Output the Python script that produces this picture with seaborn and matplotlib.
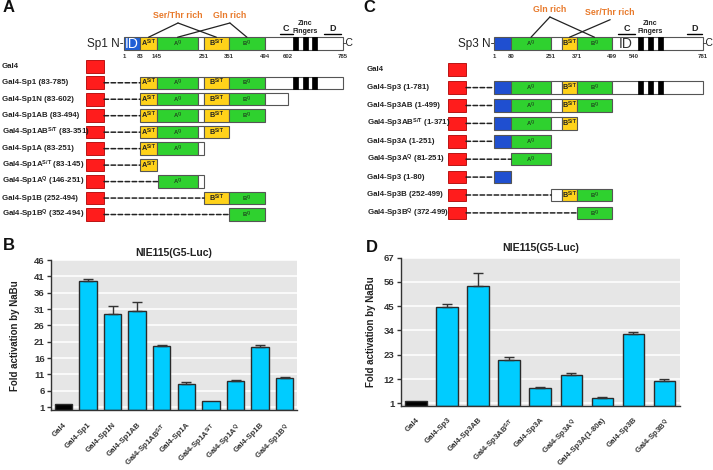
import numpy as np
import pandas as pd
import matplotlib.pyplot as plt
import matplotlib.transforms as mtransforms
import seaborn as sns
from matplotlib.patches import Rectangle

# ---------------- data ----------------
# Sp1 domain map (residue ranges)
sp1_domains = [(1, 83, 'id'), (83, 145, 'ast'), (145, 235, 'aq'), (235, 251, 'blank'),
               (251, 351, 'bst'), (351, 494, 'bq'), (494, 785, 'blank')]
sp1_zinc = [(619, 635), (652, 669), (682, 699)]
sp1_ticks = [1, 83, 145, 251, 351, 494, 602, 785]
sp1_regions = [('C', 564, 619), ('D', 722, 778)]
sp1_rows = ['Gal4', 'Gal4-Sp1 (83-785)', 'Gal4-Sp1N (83-602)', 'Gal4-Sp1AB (83-494)',
            r'Gal4-Sp1AB$^{\mathbf{S/T}}$ (83-351)', 'Gal4-Sp1A (83-251)',
            r'Gal4-Sp1A$^{\mathbf{S/T}}$ (83-145)', r'Gal4-Sp1A$^{\mathbf{Q}}$ (146-251)',
            'Gal4-Sp1B (252-494)', r'Gal4-Sp1B$^{\mathbf{Q}}$ (352-494)']
sp1_ranges = [None, (83, 785), (83, 602), (83, 494), (83, 351), (83, 251),
              (83, 145), (146, 251), (252, 494), (352, 494)]

# Sp3 domain map
sp3_domains = [(1, 80, 'nt'), (80, 251, 'aq'), (251, 330, 'blank'), (330, 371, 'bst'),
               (371, 499, 'bq'), (499, 781, 'blank')]
sp3_zinc = [(554, 571), (589, 606), (624, 641)]
sp3_ticks = [1, 80, 251, 371, 499, 540, 781]
sp3_regions = [('C', 510, 543), ('D', 725, 777)]
sp3_rows = ['Gal4', 'Gal4-Sp3 (1-781)', 'Gal4-Sp3AB (1-499)',
            r'Gal4-Sp3AB$^{\mathbf{S/T}}$ (1-371)', 'Gal4-Sp3A (1-251)',
            r'Gal4-Sp3A$^{\mathbf{Q}}$ (81-251)', 'Gal4-Sp3 (1-80)',
            'Gal4-Sp3B (252-499)', r'Gal4-Sp3B$^{\mathbf{Q}}$ (372-499)']
sp3_ranges = [None, (1, 781), (1, 499), (1, 371), (1, 251), (81, 251), (1, 80),
              (252, 499), (372, 499)]

# bar charts
b_labels = ['Gal4', 'Gal4-Sp1', 'Gal4-Sp1N', 'Gal4-Sp1AB', r'Gal4-Sp1AB$^{\mathbf{S/T}}$',
            'Gal4-Sp1A', r'Gal4-Sp1A$^{\mathbf{S/T}}$', r'Gal4-Sp1A$^{\mathbf{Q}}$',
            'Gal4-Sp1B', r'Gal4-Sp1B$^{\mathbf{Q}}$']
b_fold = [1.8, 39.6, 29.6, 30.4, 19.8, 8.1, 2.8, 9.0, 19.4, 9.9]
b_err = [0, 0.7, 2.4, 2.6, 0.2, 0.5, 0, 0.2, 0.6, 0.3]
b_yticks = [1, 6, 11, 16, 21, 26, 31, 36, 41, 46]

d_labels = ['Gal4', 'Gal4-Sp3', 'Gal4-Sp3AB', r'Gal4-Sp3AB$^{\mathbf{S/T}}$', 'Gal4-Sp3A',
            r'Gal4-Sp3A$^{\mathbf{Q}}$', 'Gal4-Sp3A(1-80a)', 'Gal4-Sp3B',
            r'Gal4-Sp3B$^{\mathbf{Q}}$']
d_fold = [2.0, 44.7, 54.0, 20.6, 7.8, 13.9, 3.4, 32.5, 11.3]
d_err = [0, 1.2, 6.0, 1.5, 0.4, 0.9, 0.4, 1.0, 0.7]
d_yticks = [1, 12, 23, 34, 45, 56, 67]

# schematics are not drawn to scale: residue -> fraction of drawn length
sp1_draw_res = [1, 83, 145, 235, 251, 351, 494, 602, 785]
sp1_draw_pos = [0, .073, .151, .338, .365, .479, .644, .749, 1]
sp3_draw_res = [1, 80, 251, 330, 371, 499, 540, 781]
sp3_draw_pos = [0, .081, .273, .325, .397, .565, .670, 1]

# ---------------- style ----------------
sns.set_theme(style='darkgrid', rc={'axes.facecolor': '#e6e6e6', 'grid.color': 'white'})
plt.rcParams['font.family'] = ['Liberation Sans', 'DejaVu Sans']
plt.rcParams['mathtext.fontset'] = 'custom'
plt.rcParams['mathtext.rm'] = 'Liberation Sans'
plt.rcParams['mathtext.bf'] = 'Liberation Sans:bold'
plt.rcParams['mathtext.it'] = 'Liberation Sans:italic'

FILL = {'id': '#1f5fd6', 'nt': '#1f4fd0', 'ast': '#ffd21a', 'bst': '#ffd21a',
        'aq': '#2fd12f', 'bq': '#2fd12f', 'blank': 'white'}
TAG = {'ast': r'A$^{\mathbf{S/T}}$', 'bst': r'B$^{\mathbf{S/T}}$',
       'aq': r'A$^{\mathbf{Q}}$', 'bq': r'B$^{\mathbf{Q}}$'}
ORANGE = '#e8792a'

W, H = 713, 470
fig = plt.figure(figsize=(W / 100, H / 100), dpi=100)


def px_axes(x0, y0, x1, y1):
    return fig.add_axes([x0 / W, 1 - y1 / H, (x1 - x0) / W, (y1 - y0) / H])


def draw_protein(ax, domains, zinc, lo, hi, y, h, top=False, id_text=None):
    for s, e, kind in domains:
        a, b = max(s, lo), min(e, hi)
        if b <= a:
            continue
        ax.add_patch(Rectangle((a, y - h / 2), b - a, h, fc=FILL[kind], ec='#555555',
                               lw=0.8, clip_on=False, zorder=2))
        if kind in TAG:
            small = kind in ('aq', 'bq')
            ax.text((a + b) / 2, y, TAG[kind], ha='center', va='center',
                    fontsize=4.2 if small else 5.2, fontweight='bold',
                    color='#1f4a1f' if small else '#222222', zorder=3)
        if kind == 'id' and top:
            ax.text((a + b) / 2, y + 0.5, 'ID', ha='center', va='center', fontsize=10,
                    color='white', zorder=3)
    for s, e in zinc:
        if s >= lo and e <= hi:
            ax.add_patch(Rectangle((s, y - h / 2), e - s, h, fc='black', ec='black',
                                   lw=0.5, clip_on=False, zorder=3))
    if top and id_text is not None:
        ax.text(id_text, y + 0.5, 'ID', ha='center', va='center', fontsize=10,
                color='#333333', zorder=3)


def draw_schematic(ax, name, domains, zinc, ticks, regions, zinc_x, draw_res, draw_pos,
                   rows, ranges, row0, pitch, box_x, label_x, notes, id_text=None):
    res = np.asarray(draw_res, float)
    pos = np.asarray(draw_pos, float)
    ax.set_xscale('function', functions=(lambda r: np.interp(r, res, pos),
                                         lambda p: np.interp(p, pos, res)))
    ax.set_xlim(res[0], res[-1])
    ax.set_ylim(230, 0)
    ax.axis('off')

    # full-length protein
    ytop = 43.5
    draw_protein(ax, domains, zinc, res[0], res[-1], ytop, 12.5, top=True, id_text=id_text)
    ax.text(res[0], ytop, f'{name} N-', ha='right', va='center', fontsize=8.5, color='#222222')
    ax.text(res[-1], ytop, '-C', ha='left', va='center', fontsize=7.5, color='#222222')
    for t in ticks:
        ax.text(t, 56.5, str(t), ha='center', va='center', fontsize=4.3,
                fontweight='bold', color='#333333')
    for lab, s, e in regions:
        ax.plot([s, e], [33.8, 33.8], color='black', lw=1, clip_on=False)
        ax.text((s + e) / 2, 28.5, lab, ha='center', va='center', fontsize=6.5,
                fontweight='bold', color='#222222')
    ax.text(zinc_x, 27.5, 'Zinc\nFingers', ha='center', va='center', fontsize=5,
            fontweight='bold', color='#222222', linespacing=1.3)

    centres = {k: (s + e) / 2 for s, e, k in domains}
    for text, x, y, targets in notes:
        ax.text(x, y, text, ha='center', va='center', fontsize=6.3,
                fontweight='bold', color=ORANGE)
        for k in targets:
            ax.plot([x, centres[k]], [y + 7, ytop - 6.25], color='#222222', lw=0.9,
                    clip_on=False)

    # constructs
    tr = mtransforms.blended_transform_factory(fig.transFigure, ax.transData)
    for i, (lab, rng) in enumerate(zip(rows, ranges)):
        y = row0 + pitch * i
        ax.text(label_x / W, y, lab, transform=tr, ha='left', va='center',
                fontsize=5.7, fontweight='bold', color='#222222')
        ax.add_patch(Rectangle((box_x[0] / W, y - 6.3), (box_x[1] - box_x[0]) / W, 12.6,
                               transform=tr, fc='#ff1c1c', ec='#b00000', lw=0.6,
                               clip_on=False))
        if rng is None:
            continue
        ax.annotate('', xy=(rng[0], y), xycoords='data', xytext=(box_x[1] / W, y),
                    textcoords=tr,
                    arrowprops=dict(arrowstyle='-', linestyle=(0, (3, 1.6)), lw=1.1,
                                    color='#222222', shrinkA=0, shrinkB=0))
        draw_protein(ax, domains, zinc, rng[0], rng[1], y, 12.5)


def draw_bars(ax, labels, fold, err, yticks, ylabel_x, title_pad):
    df = pd.DataFrame({'construct': labels, 'fold': fold})
    colors = {lab: ('black' if i == 0 else '#00ccff') for i, lab in enumerate(labels)}
    sns.barplot(data=df, x='construct', y='fold', hue='construct', palette=colors,
                saturation=1, width=0.7, edgecolor='#2b2b2b', linewidth=1, legend=False,
                ax=ax, zorder=2)
    err = np.asarray(err, float)
    x = np.arange(len(labels))
    m = err > 0
    ax.errorbar(x[m], np.asarray(fold)[m], yerr=[np.zeros(m.sum()), err[m]], fmt='none',
                ecolor='#333333', elinewidth=1, capsize=3.5, capthick=1, zorder=3)
    ax.set_ylim(0, yticks[-1])
    ax.set_xlim(-0.5, len(labels) - 0.5)
    ax.set_yticks(yticks)
    ax.set_yticklabels([str(t) for t in yticks], fontsize=6.8, fontweight='bold',
                       color='#333333')
    ax.set_xticks(x)
    ax.set_xticklabels(labels, rotation=45, ha='right', rotation_mode='anchor',
                       fontsize=5.6, fontweight='bold', color='#333333')
    ax.tick_params(axis='y', left=True, length=3, width=1, color='#333333', pad=1.5)
    ax.tick_params(axis='x', bottom=False, pad=2)
    ax.xaxis.grid(False)
    ax.yaxis.grid(True, color='white', lw=1.1)
    for side in ('top', 'right'):
        ax.spines[side].set_visible(False)
    for side in ('left', 'bottom'):
        ax.spines[side].set_visible(True)
        ax.spines[side].set_color('#333333')
        ax.spines[side].set_linewidth(1)
    ax.set_xlabel('')
    ax.set_ylabel('Fold activation by NaBu', fontsize=7, fontweight='bold', color='#222222')
    ax.yaxis.set_label_coords(ylabel_x, 0.5)
    ax.set_title('NIE115(G5-Luc)', fontsize=7.6, fontweight='bold', color='#222222',
                 pad=title_pad)


# ---------------- panels ----------------
ax_a = px_axes(124, 0, 343, 230)
draw_schematic(ax_a, 'Sp1', sp1_domains, sp1_zinc, sp1_ticks, sp1_regions, 659,
               sp1_draw_res, sp1_draw_pos, sp1_rows, sp1_ranges, 66.3, 16.47,
               (86, 104), 2,
               [('Ser/Thr rich', 191, 16, ['ast', 'bst']), ('Gln rich', 355, 16, ['aq', 'bq'])])

ax_c = px_axes(494, 0, 703, 230)
draw_schematic(ax_c, 'Sp3', sp3_domains, sp3_zinc, sp3_ticks, sp3_regions, 596,
               sp3_draw_res, sp3_draw_pos, sp3_rows, sp3_ranges, 69.7, 17.9,
               (448, 466), 367,
               [('Gln rich', 246, 10, ['aq', 'bq']), ('Ser/Thr rich', 492, 12.7, ['bst'])],
               id_text=525)

ax_b = px_axes(51, 260, 297, 410.3)
draw_bars(ax_b, b_labels, b_fold, b_err, b_yticks, -0.126, 3)

ax_d = px_axes(400.7, 257.7, 680, 405.5)
draw_bars(ax_d, d_labels, d_fold, d_err, d_yticks, -0.088, 5)

for letter, x, y in [('A', 3, 7.5), ('B', 3, 245), ('C', 363, 7.5), ('D', 366, 247)]:
    fig.text(x / W, 1 - y / H, letter, fontsize=12, fontweight='bold', va='center',
             ha='left', color='#111111')

fig.savefig('out.png', dpi=100, facecolor='white')
